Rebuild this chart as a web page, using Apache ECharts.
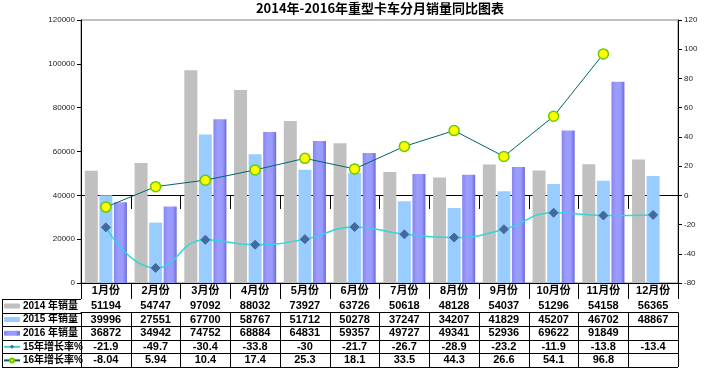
<!DOCTYPE html>
<html>
<head>
<meta charset="utf-8">
<script src="https://cdn.jsdelivr.net/npm/echarts@6/dist/echarts.min.js"></script>
<style>
  html, body { margin: 0; padding: 0; background: #fff; }
  #main { width: 706px; height: 376px; }
</style>
</head>
<body>
<div id="main"></div>
<script>
// 2014-2016 重型卡车分月销量 同比图表
const months = ['1月份', '2月份', '3月份', '4月份', '5月份', '6月份', '7月份', '8月份', '9月份', '10月份', '11月份', '12月份'];
const sales2014 = [51194, 54747, 97092, 88032, 73927, 63726, 50618, 48128, 54037, 51296, 54158, 56365];
const sales2015 = [39996, 27551, 67700, 58767, 51712, 50278, 37247, 34207, 41829, 45207, 46702, 48867];
const sales2016 = [36872, 34942, 74752, 68884, 64831, 59357, 49727, 49341, 52936, 69622, 91849, null];
const growth15 = [-21.9, -49.7, -30.4, -33.8, -30, -21.7, -26.7, -28.9, -23.2, -11.9, -13.8, -13.4];
const growth16 = [-8.04, 5.94, 10.4, 17.4, 25.3, 18.1, 33.5, 44.3, 26.6, 54.1, 96.8, null];
const seriesNames = ['2014 年销量', '2015 年销量', '2016 年销量', '15年增长率%', '16年增长率%'];
// 右轴刻度文字（原图最底下一格标成 -80）
const rightTicks = ['-80', '-40', '-20', '0', '20', '40', '60', '80', '100', '120'];

// 表格几何
const gridL = 81, gridR = 678, gridB = 283;
const headH = 16, rowH = 13.6;
const rowTop = i => gridB + headH + i * rowH;
const tableBottom = rowTop(5);

const txt = v => (v === null ? '' : String(v));
const tableRows = [sales2014, sales2015, sales2016, growth15, growth16];

const chart = echarts.init(document.getElementById('main'));

const xAxes = [{
  type: 'category', data: months, position: 'bottom', gridIndex: 0,
  axisLine: { lineStyle: { color: '#000', width: 1 } },
  axisTick: { show: true, length: headH, interval: 0, lineStyle: { color: '#000' } },
  axisLabel: { margin: 2, interval: 0, color: '#000', fontSize: 11, fontWeight: 'bold', fontFamily: 'Liberation Sans, Noto Sans CJK SC' }
}];
tableRows.forEach((arr, i) => {
  xAxes.push({
    type: 'category', data: arr.map(txt), position: 'bottom', offset: rowTop(i) - gridB,
    axisLine: { show: true, lineStyle: { color: '#000', width: 1 } },
    axisTick: { show: true, length: rowH, interval: 0, lineStyle: { color: '#000' } },
    axisLabel: { margin: 1.5, interval: 0, color: '#000', fontSize: 11, fontWeight: 'bold', fontFamily: 'Liberation Sans' }
  });
});

const graphics = [];
for (let i = 0; i <= 5; i++) {
  const y = Math.round(rowTop(i)) + 0.5;
  graphics.push({ type: 'line', shape: { x1: 2, y1: y, x2: i === 5 ? gridR : gridL, y2: y }, style: { stroke: '#000', lineWidth: 1 } });
}
graphics.push({ type: 'line', shape: { x1: 2.5, y1: rowTop(0), x2: 2.5, y2: tableBottom + 0.5 }, style: { stroke: '#000', lineWidth: 1 } });

chart.setOption({
  animation: false,
  backgroundColor: '#fff',
  title: {
    text: '2014年-2016年重型卡车分月销量同比图表',
    left: 375, textAlign: 'center', top: -3,
    textStyle: { fontSize: 13, fontWeight: 'bold', color: '#000', fontFamily: 'Noto Sans CJK SC' }
  },
  grid: { left: gridL, right: 706 - gridR, top: 20, bottom: 376 - gridB, show: true, borderColor: '#808080', borderWidth: 1 },
  legend: {
    orient: 'vertical', left: 3, top: rowTop(0) + 0.5, padding: 0, itemGap: 0.6,
    itemWidth: 16, itemHeight: 5, selectedMode: false,
    data: seriesNames,
    textStyle: { fontSize: 10, fontWeight: 'bold', color: '#000', lineHeight: 13, fontFamily: 'Liberation Sans, Noto Sans CJK SC', padding: [0, 0, 0, -2] }
  },
  xAxis: xAxes,
  yAxis: [{
    type: 'value', min: 0, max: 120000, interval: 20000, position: 'left',
    axisLine: { show: true, lineStyle: { color: '#000' } },
    axisTick: { show: true, length: 4, lineStyle: { color: '#000' } },
    splitLine: { show: false },
    axisLabel: { fontSize: 8, color: '#222', margin: 6, fontFamily: 'Liberation Sans', formatter: v => String(v) }
  }, {
    type: 'value', min: -60, max: 120, interval: 20, position: 'right',
    axisLine: { show: true, lineStyle: { color: '#000' } },
    axisTick: { show: true, length: 4, lineStyle: { color: '#000' } },
    splitLine: { show: false },
    axisLabel: { fontSize: 8, color: '#222', margin: 6, fontFamily: 'Liberation Sans', formatter: (v, i) => rightTicks[i] }
  }],
  series: [
    { name: seriesNames[0], type: 'bar', data: sales2014, barWidth: 13, barGap: '12%', itemStyle: { color: '#C0C0C0' } },
    { name: seriesNames[1], type: 'bar', data: sales2015, barWidth: 13, barGap: '12%', itemStyle: { color: '#99CCFF' } },
    {
      name: seriesNames[2], type: 'bar', data: sales2016, barWidth: 13, barGap: '12%',
      itemStyle: {
        color: { type: 'linear', x: 0, y: 0, x2: 1, y2: 0, colorStops: [
          { offset: 0, color: '#8585EE' }, { offset: 0.35, color: '#9D9DFF' },
          { offset: 0.7, color: '#9999FF' }, { offset: 1, color: '#6C6CD6' }] }
      }
    },
    {
      name: seriesNames[3], type: 'line', yAxisIndex: 1, data: growth15, smooth: true, z: 5,
      symbol: 'diamond', symbolSize: 9,
      lineStyle: { color: '#33D6D6', width: 1.5 },
      itemStyle: { color: '#44699A', borderColor: '#44699A' }
    },
    {
      name: seriesNames[4], type: 'line', yAxisIndex: 1, data: growth16, z: 6,
      symbol: 'circle', symbolSize: 10,
      lineStyle: { color: '#006666', width: 1 },
      itemStyle: { color: '#FFFF00', borderColor: '#66CC00', borderWidth: 1.5 }
    }
  ],
  graphic: graphics
});
</script>
</body>
</html>
